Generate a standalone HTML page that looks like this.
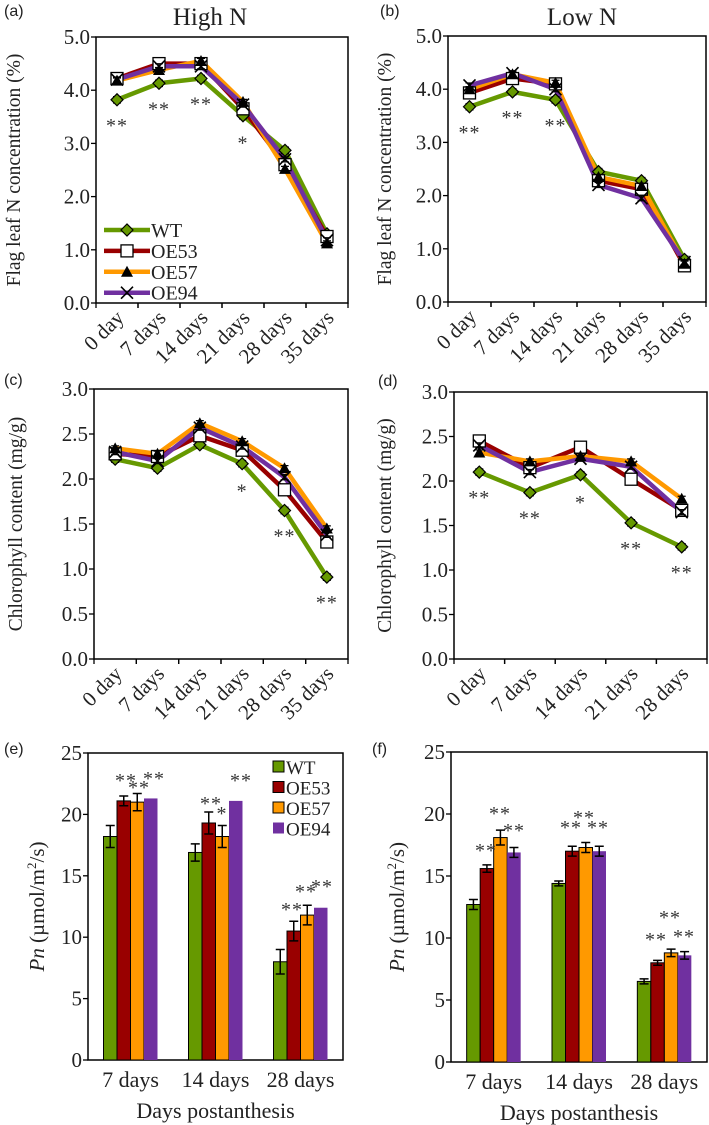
<!DOCTYPE html>
<html><head><meta charset="utf-8"><style>
body{margin:0;background:#fff}
svg{display:block;font-family:"Liberation Serif",serif}
</style></head><body>
<svg id="fig" width="709" height="1125" viewBox="0 0 709 1125"></svg>
<script>
const series = ['WT','OE53','OE57','OE94'];
const colors = ['#669900','#990000','#ff9900','#7030a0'];
const catsA = ['0 day','7 days','14 days','21 days','28 days','35 days'];
const catsD = ['0 day','7 days','14 days','21 days','28 days'];
const catsBar = ['7 days','14 days','28 days'];
const aWT=[3.82,4.13,4.22,3.52,2.87,1.30], aOE53=[4.22,4.50,4.50,3.65,2.60,1.25], aOE57=[4.18,4.38,4.55,3.78,2.52,1.12], aOE94=[4.20,4.45,4.45,3.73,2.70,1.18];
const bWT=[3.67,3.95,3.80,2.45,2.28,0.80], bOE53=[3.93,4.20,4.10,2.28,2.12,0.68], bOE57=[4.00,4.28,4.12,2.35,2.18,0.72], bOE94=[4.07,4.30,4.00,2.20,1.95,0.75];
const cWT=[2.22,2.12,2.38,2.17,1.65,0.91], cOE53=[2.28,2.25,2.48,2.32,1.88,1.30], cOE57=[2.34,2.28,2.62,2.42,2.12,1.45], cOE94=[2.30,2.20,2.57,2.36,2.02,1.38];
const dWT=[2.10,1.87,2.07,1.53,1.26], dOE53=[2.45,2.15,2.38,2.02,1.67], dOE57=[2.32,2.22,2.28,2.22,1.80], dOE94=[2.40,2.10,2.25,2.16,1.65];
const eWT=[18.2,16.9,8.0], eOE53=[21.1,19.3,10.5], eOE57=[21.0,18.2,11.8], eOE94=[21.3,21.1,12.4];
const eErrWT=[0.9,0.7,1.0], eErrOE53=[0.4,0.9,0.8], eErrOE57=[0.7,0.9,0.8], eErrOE94=[0,0,0];
const fWT=[12.7,14.4,6.5], fOE53=[15.6,17.0,8.0], fOE57=[18.1,17.3,8.8], fOE94=[16.9,17.0,8.6];
const fErrWT=[0.4,0.2,0.2], fErrOE53=[0.3,0.4,0.2], fErrOE57=[0.6,0.4,0.3], fErrOE94=[0.4,0.4,0.3];
const ticksN=['0.0','1.0','2.0','3.0','4.0','5.0'];
const ticksC=['0.0','0.5','1.0','1.5','2.0','2.5','3.0'];
const ticksP=['0','5','10','15','20','25'];
const starsA=['**','**','**','*','',''], starsB=['**','**','**','','',''];
const starsC=['','','','*','**','**'], starsD=['**','**','*','**','**'];

const NS='http://www.w3.org/2000/svg';
const svg=document.getElementById('fig');
function el(tag,attrs,parent,txt){const e=document.createElementNS(NS,tag);for(const k in attrs)e.setAttribute(k,attrs[k]);if(txt!==undefined)e.textContent=txt;(parent||svg).appendChild(e);return e;}

function frame(g,L,R,T,B,ticks,max,id){
  el('rect',{x:L,y:T,width:R-L,height:B-T,fill:'none',stroke:'#000','stroke-width':1.5},g);
  ticks.forEach((t,i)=>{const v=parseFloat(t);const y=B-(v/max)*(B-T);
    el('line',{x1:L-5,x2:L,y1:y,y2:y,stroke:'#000','stroke-width':1.3},g);
    const tx=el('text',{x:L-6,y:y+7,'text-anchor':'end','font-size':21,fill:'#222'},g,t);
    
    
  });
}
function marker(g,i,x,y,c){
  if(i===0){el('path',{d:`M${x-6},${y}L${x},${y-6}L${x+6},${y}L${x},${y+6}Z`,fill:c,stroke:'#000','stroke-width':1.2},g);}
  else if(i===1){el('rect',{x:x-6,y:y-6,width:12,height:12,fill:'#fff',stroke:'#000','stroke-width':1.3},g);}
  else if(i===2){el('path',{d:`M${x-6},${y+5}L${x},${y-6}L${x+6},${y+5}Z`,fill:'#000'},g);}
  else {el('path',{d:`M${x-6},${y-6}L${x+6},${y+6}M${x-6},${y+6}L${x+6},${y-6}`,stroke:'#000','stroke-width':1.6},g);}
}
function linePanel(id,L,R,T,B,cats,data,ticks,max,stars,ylabel,ylx,lab,title,titleX,legend){
  const g=el('g',{});
  
  
  const bw=(R-L)/cats.length;
  const X=i=>L+bw*(i+0.5), Y=v=>B-(v/max)*(B-T);
  frame(g,L,R,T,B,ticks,max,id);
  cats.forEach((c,i)=>{
    el('line',{x1:L+bw*(i+1),x2:L+bw*(i+1),y1:B,y2:B+5,stroke:'#000','stroke-width':1.3},g);
    el('line',{x1:L+bw*i,x2:L+bw*i,y1:B,y2:B+5,stroke:'#000','stroke-width':1.3},g);
    const t=el('text',{x:X(i)+8,y:B+16,'text-anchor':'end','font-size':21,fill:'#222',transform:`rotate(-45 ${X(i)+8} ${B+16})`},g,c);
    
    
  });
  data.forEach((arr,si)=>{
    const p=el('polyline',{points:arr.map((v,i)=>X(i)+','+Y(v)).join(' '),fill:'none',stroke:colors[si],'stroke-width':4.5,'stroke-linejoin':'round'},g);
    
    
  });
  data.forEach((arr,si)=>arr.forEach((v,i)=>{
    const e=0.06*max/5*(si===0?1:0.8);
    el('path',{d:`M${X(i)},${Y(v+e)}V${Y(v-e)}M${X(i)-4},${Y(v+e)}H${X(i)+4}M${X(i)-4},${Y(v-e)}H${X(i)+4}`,stroke:'#000','stroke-width':1.2},g);
    marker(g,si,X(i),Y(v),colors[si]);
  }));
  stars.forEach((s,i)=>{if(!s)return;
    const t=el('text',{x:X(i),y:Y(data[0][i])+(s==='*'?34:32),'text-anchor':'middle','font-size':20,fill:'#333','letter-spacing':'1'},g,s);
    
    
  });
  const yl=el('text',{x:ylx,y:(T+B)/2,'text-anchor':'middle','font-size':19.5,fill:'#222',transform:`rotate(-90 ${ylx} ${(T+B)/2})`},g,ylabel);
  
  
  const lb=el('text',{x:lab[0],y:lab[1],'font-size':16,'font-family':'Liberation Sans, sans-serif',fill:'#222'},g,lab[2]);
  
  
  if(title){const tt=el('text',{x:titleX,y:25,'text-anchor':'middle','font-size':25,fill:'#222'},g,title);
    
    }
  if(legend){series.forEach((s,i)=>{const y=230+i*20.9;
    const lg=el('g',{},g);
    
    
    el('line',{x1:104,x2:150,y1:y,y2:y,stroke:colors[i],'stroke-width':4.5},lg);
    marker(lg,i,127,y,colors[i]);
    el('text',{x:151,y:y+7,'font-size':20,fill:'#222'},lg,s);
  });}
}
function barPanel(id,L,R,T,B,data,errs,stars,lab,ylx,legend){
  const g=el('g',{});
  
  
  const max=25, Y=v=>B-(v/max)*(B-T), gw=(R-L)/3, bw=13.5;
  frame(g,L,R,T,B,ticksP,max,id);
  catsBar.forEach((c,ci)=>{
    const cx=L+gw*(ci+0.5);
    const t=el('text',{x:cx,y:B+27,'text-anchor':'middle','font-size':22,fill:'#222'},g,c);
    
    
    data.forEach((arr,si)=>{
      const x=cx-2*bw+si*bw, v=arr[ci];
      const r=el('rect',{x:x,y:Y(v),width:bw,height:B-Y(v),fill:colors[si],stroke:si===3?'none':'#000','stroke-width':1},g);
      
      
      const e=errs[si][ci];
      if(e>0){const xc=x+bw/2;
        el('path',{d:`M${xc},${Y(v+e)}V${Y(v-e)}M${xc-4.5},${Y(v+e)}H${xc+4.5}M${xc-4.5},${Y(v-e)}H${xc+4.5}`,stroke:'#000','stroke-width':1.5},g);}
    });
  });
  stars.forEach(s=>{const t=el('text',{x:s[0],y:s[1],'text-anchor':'middle','font-size':20,fill:'#333','letter-spacing':'1'},g,s[2]);
    
    });
  const yy=(T+B)/2;
  const yl=el('text',{x:ylx,y:yy,'text-anchor':'middle','font-size':21,fill:'#222',transform:`rotate(-90 ${ylx} ${yy})`},g);
  
  
  el('tspan',{'font-style':'italic'},yl,'Pn');
  el('tspan',{},yl,' (µmol/m');
  el('tspan',{dy:-8,'font-size':13},yl,'2');
  el('tspan',{dy:8},yl,'/s)');
  const xt=el('text',{x:(L+R)/2,y:B+58,'text-anchor':'middle','font-size':22,fill:'#222'},g,'Days postanthesis');
  
  
  const lb=el('text',{x:lab[0],y:lab[1],'font-size':16,'font-family':'Liberation Sans, sans-serif',fill:'#222'},g,lab[2]);
  
  
  if(legend){series.forEach((s,i)=>{const y=767+i*20.5;
    const lg=el('g',{},g);
    
    
    el('rect',{x:273,y:y-6,width:11,height:11,fill:colors[i],stroke:i===3?'none':'#000','stroke-width':1},lg);
    el('text',{x:286,y:y+7,'font-size':19,fill:'#222'},lg,s);
  });}
}
linePanel('a',96,348,37,303,catsA,[aWT,aOE53,aOE57,aOE94],ticksN,5,starsA,'Flag leaf N concentration (%)',20,[4,16,'(a)'],'High N',210,true);
linePanel('b',448,706,36,302,catsA,[bWT,bOE53,bOE57,bOE94],ticksN,5,starsB,'Flag leaf N concentration (%)',391,[380,16,'(b)'],'Low  N',582,false);
linePanel('c',94,348,389,659,catsA,[cWT,cOE53,cOE57,cOE94],ticksC,3,starsC,'Chlorophyll content (mg/g)',22,[4,385,'(c)'],null,0,false);
linePanel('d',454,707,392,659,catsD,[dWT,dOE53,dOE57,dOE94],ticksC,3,starsD,'Chlorophyll content (mg/g)',391,[378,386,'(d)'],null,0,false);
barPanel('e',88,343,753,1060,[eWT,eOE53,eOE57,eOE94],[eErrWT,eErrOE53,eErrOE57,eErrOE94],
  [[126,787,'**'],[139,794,'**'],[154,785,'**'],[211,810,'**'],[222,820,'*'],[241,787,'**'],[292,916,'**'],[306,898,'**'],[322,893,'**']],[4,754,'(e)'],44,true);
barPanel('f',451,707,752,1062,[fWT,fOE53,fOE57,fOE94],[fErrWT,fErrOE53,fErrOE57,fErrOE94],
  [[486,857,'**'],[500,820,'**'],[514,837,'**'],[571,834,'**'],[584,824,'**'],[598,834,'**'],[656,946,'**'],[670,924,'**'],[684,943,'**']],[372,754,'(f)'],404,false);
</script>
</body></html>
